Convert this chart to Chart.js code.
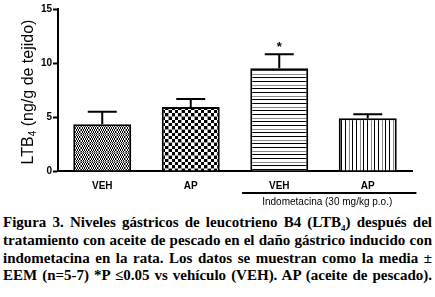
<!DOCTYPE html>
<html>
<head>
<meta charset="utf-8">
<script src="https://cdn.jsdelivr.net/npm/chart.js@4.4.0/dist/chart.umd.min.js"></script>
<style>
  body { margin: 0; background: #fff; width: 435px; height: 297px; overflow: hidden; }
  #wrap { position: absolute; left: 0; top: 0; width: 435px; height: 212px; }
  #caption {
    position: absolute; left: 3px; top: 214px; width: 429px;
    font: bold 15px/17.8px "Liberation Serif", "Times New Roman", serif;
    color: #000;
  }
  #caption div { text-align: justify; text-align-last: justify; white-space: nowrap; }
  #caption sub { font-size: 9px; line-height: 0; }
</style>
</head>
<body>
<div id="wrap"><canvas id="chart" width="435" height="212"></canvas></div>
<div id="caption">
  <div>Figura 3. Niveles gástricos de leucotrieno B4 (LTB<sub>4</sub>) después del</div>
  <div>tratamiento con aceite de pescado en el daño gástrico inducido con</div>
  <div>indometacina en la rata. Los datos se muestran como la media ±</div>
  <div>EEM (n=5-7) *P ≤0.05 vs vehículo (VEH). AP (aceite de pescado).</div>
</div>
<script>
// LTB4 (ng/g de tejido), media ± EEM
const groups = ['VEH', 'AP', 'VEH', 'AP'];
const means = [4.32, 5.93, 9.51, 4.88];
const sem = [1.16, 0.74, 1.29, 0.37];
const stars = ['', '', '*', ''];
const yTicks = [0, 5, 10, 15];
const bracketLabel = 'Indometacina (30 mg/kg p.o.)';

// hatch fills like the original figure
function makePattern(kind) {
  const c = document.createElement('canvas');
  const g = c.getContext('2d');
  if (kind === 'fine') {
    c.width = 9; c.height = 9;
    g.fillStyle = '#fff'; g.fillRect(0, 0, 9, 9);
    g.fillStyle = '#000';
    for (let y = 0; y < 8; y += 2)
      for (let x = 0; x < 8; x += 2) {
        g.fillRect(x + ((y / 2) % 2), y, 1, 1);
        g.fillRect(x + 1 - ((y / 2) % 2), y + 1, 1, 1);
      }
    g.fillStyle = '#888';
    g.fillRect(8, 0, 1, 9); g.fillRect(0, 8, 9, 1);
  } else if (kind === 'check') {
    c.width = 13; c.height = 13;
    g.fillStyle = '#fff'; g.fillRect(0, 0, 13, 13);
    g.fillStyle = '#000';
    for (let y = 0; y < 12; y += 3)
      for (let x = 0; x < 12; x += 3)
        if (((x + y) / 3) % 2 === 0) g.fillRect(x, y, 3, 3);
    g.fillStyle = '#999';
    g.fillRect(12, 0, 1, 13); g.fillRect(0, 12, 13, 1);
  } else if (kind === 'hlines') {
    c.width = 4; c.height = 11;
    g.fillStyle = '#fff'; g.fillRect(0, 0, 4, 11);
    g.fillStyle = '#000'; g.fillRect(0, 0, 4, 1); g.fillRect(0, 4, 4, 1);
    g.fillStyle = '#888'; g.fillRect(0, 8, 4, 1);
  } else {
    c.width = 11; c.height = 4;
    g.fillStyle = '#fff'; g.fillRect(0, 0, 11, 4);
    g.fillStyle = '#000'; g.fillRect(0, 0, 1, 4); g.fillRect(4, 0, 1, 4);
    g.fillStyle = '#888'; g.fillRect(8, 0, 1, 4);
  }
  return g.createPattern(c, 'repeat');
}

const fills = [makePattern('fine'), makePattern('check'), makePattern('hlines'), makePattern('vlines')];

const extras = {
  id: 'extras',
  afterDatasetsDraw(chart) {
    const ctx = chart.ctx;
    const xs = chart.scales.x, ys = chart.scales.y;
    const bars = chart.getDatasetMeta(0).data;
    ctx.save();
    ctx.strokeStyle = '#000';
    ctx.lineWidth = 2;
    bars.forEach((bar, i) => {
      const top = ys.getPixelForValue(means[i] + sem[i]);
      const half = bar.width / 4;
      ctx.beginPath();
      ctx.moveTo(bar.x, bar.y);
      ctx.lineTo(bar.x, top);
      ctx.moveTo(bar.x - half, top);
      ctx.lineTo(bar.x + half, top);
      ctx.stroke();
      if (stars[i]) {
        ctx.fillStyle = '#000';
        ctx.font = 'bold 13px "Liberation Sans", Arial, sans-serif';
        ctx.textAlign = 'center';
        ctx.textBaseline = 'alphabetic';
        ctx.fillText(stars[i], bar.x, top - 3);
      }
    });

    // indometacina bracket under the last two groups
    const step = xs.getPixelForValue(1) - xs.getPixelForValue(0);
    const x0 = xs.getPixelForValue(2) - step * 0.42;
    const x1 = xs.getPixelForValue(3) + step * 0.55;
    const yb = xs.top + 22;
    ctx.beginPath();
    ctx.moveTo(x0, yb);
    ctx.lineTo(x1, yb);
    ctx.stroke();
    ctx.fillStyle = '#000';
    ctx.font = '10px "Liberation Sans", Arial, sans-serif';
    ctx.textAlign = 'center';
    ctx.textBaseline = 'alphabetic';
    ctx.fillText(bracketLabel, (x0 + x1) / 2 - 2, yb + 12);

    // y title with subscript
    const big = '16px "Liberation Sans", Arial, sans-serif';
    const small = '10px "Liberation Sans", Arial, sans-serif';
    ctx.font = big;
    const w1 = ctx.measureText('LTB').width;
    const w3 = ctx.measureText(' (ng/g de tejido)').width;
    ctx.font = small;
    const w2 = ctx.measureText('4').width;
    const total = w1 + w2 + w3;
    ctx.translate(33, 92);
    ctx.rotate(-Math.PI / 2);
    ctx.textAlign = 'left';
    let x = -total / 2;
    ctx.font = big; ctx.fillText('LTB', x, 0); x += w1;
    ctx.font = small; ctx.fillText('4', x, 3); x += w2;
    ctx.font = big; ctx.fillText(' (ng/g de tejido)', x, 0);
    ctx.restore();
  }
};

new Chart(document.getElementById('chart'), {
  type: 'bar',
  data: {
    labels: groups,
    datasets: [{
      data: means,
      backgroundColor: fills,
      borderColor: '#000',
      borderWidth: 2,
      barPercentage: 1,
      categoryPercentage: 0.655
    }]
  },
  options: {
    responsive: false,
    animation: false,
    layout: { padding: { top: 9, right: 23, left: 0, bottom: 0 } },
    plugins: { legend: { display: false }, tooltip: { enabled: false } },
    scales: {
      x: {
        grid: { display: true, drawOnChartArea: false, drawTicks: false },
        border: { color: '#000', width: 2 },
        ticks: { color: '#000', padding: 9, font: { family: '"Liberation Sans", Arial, sans-serif', size: 10, weight: 'bold' } },
        afterFit: s => { s.height = 41; }
      },
      y: {
        min: 0, max: 15,
        afterBuildTicks: s => { s.ticks = yTicks.map(v => ({ value: v })); },
        grid: { drawOnChartArea: false, tickLength: 5, tickWidth: 2, tickColor: '#000' },
        border: { color: '#000', width: 2 },
        ticks: { color: '#000', padding: 1, font: { family: '"Liberation Sans", Arial, sans-serif', size: 10, weight: 'bold' } },
        afterFit: s => { s.width = 58; }
      }
    }
  },
  plugins: [extras]
});
</script>
</body>
</html>
